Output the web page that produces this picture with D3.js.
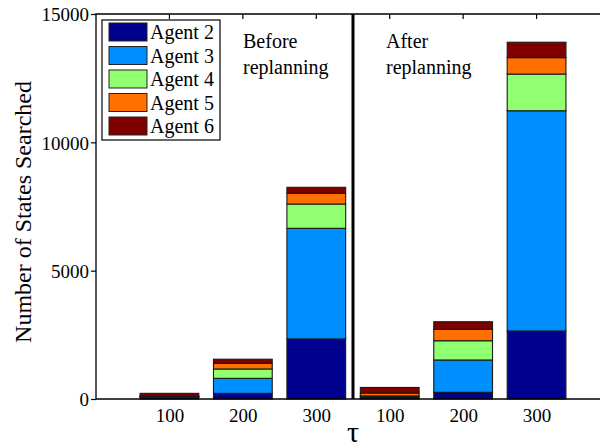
<!DOCTYPE html>
<html>
<head>
<meta charset="utf-8">
<script src="https://cdn.jsdelivr.net/npm/d3@7"></script>
<style>
  body { margin: 0; background: #fff; }
  svg text { font-family: "Liberation Serif", "DejaVu Serif", serif; fill: #000; }
</style>
</head>
<body>
<svg id="chart" width="600" height="448"></svg>
<script>
// data
var agents = ["Agent 2", "Agent 3", "Agent 4", "Agent 5", "Agent 6"];
var colors = ["#00008f", "#008fff", "#90ff70", "#ff7000", "#800000"];
var slots = [1, 2, 3, 4, 5, 6];
var tickLabels = ["100", "200", "300", "100", "200", "300"];
// one array per agent, one value per slot (before 100/200/300, after 100/200/300)
var agent2 = [70, 220, 2340, 40, 260, 2650];
var agent3 = [15, 585, 4310, 40, 1260, 8580];
var agent4 = [10, 365, 946, 40, 750, 1430];
var agent5 = [20, 220, 417, 110, 445, 640];
var agent6 = [105, 160, 234, 220, 295, 600];
var yTicks = [0, 5000, 10000, 15000];

var svg = d3.select("#chart");
var axL = 96, axT = 14, axB = 399, axR = 610;

var x = d3.scaleLinear().domain([0, 7]).range([axL, axR]);
var y = d3.scaleLinear().domain([0, 15000]).range([axB, axT]);
var barW = (x(1) - x(0)) * 0.8;

var series = [agent2, agent3, agent4, agent5, agent6];
var rows = slots.map(function (s, i) {
  var r = { slot: s };
  agents.forEach(function (a, k) { r[a] = series[k][i]; });
  return r;
});
var stacked = d3.stack().keys(agents)(rows);

// bars
svg.append("g").selectAll("g")
  .data(stacked)
  .enter().append("g")
  .attr("fill", function (d, i) { return colors[i]; })
  .selectAll("rect")
  .data(function (d) { return d; })
  .enter().append("rect")
  .attr("x", function (d) { return x(d.data.slot) - barW / 2; })
  .attr("y", function (d) { return y(d[1]); })
  .attr("width", barW)
  .attr("height", function (d) { return y(d[0]) - y(d[1]); })
  .attr("stroke", "#1a1a1a")
  .attr("stroke-width", 1.1);

// frame: left, top, bottom
svg.append("path")
  .attr("d", "M" + axR + "," + axT + "H" + axL + "V" + axB + "H" + axR)
  .attr("fill", "none").attr("stroke", "#000").attr("stroke-width", 1.3);

// y axis
var yAxis = d3.axisLeft(y).tickValues(yTicks).tickSize(5).tickPadding(2).tickFormat(d3.format("d"));
var gy = svg.append("g").attr("transform", "translate(" + axL + ",0)").call(yAxis);
gy.select(".domain").remove();
gy.selectAll("line").attr("stroke", "#000").attr("stroke-width", 1.2);
gy.selectAll("text").style("font-size", "19px").attr("dy", "0.36em");

// x axis
var xAxis = d3.axisBottom(x).tickValues(slots).tickSize(0).tickPadding(10)
  .tickFormat(function (d, i) { return tickLabels[i]; });
var gx = svg.append("g").attr("transform", "translate(0," + axB + ")").call(xAxis);
gx.select(".domain").remove();
gx.selectAll("text").style("font-size", "19px");

// top ticks
svg.append("g").selectAll("line")
  .data(slots)
  .enter().append("line")
  .attr("x1", function (d) { return x(d); }).attr("x2", function (d) { return x(d); })
  .attr("y1", axT).attr("y2", axT + 5)
  .attr("stroke", "#000").attr("stroke-width", 1.2);

// separator
svg.append("line")
  .attr("x1", x(3.5)).attr("x2", x(3.5))
  .attr("y1", axT).attr("y2", axB)
  .attr("stroke", "#000").attr("stroke-width", 3);

// annotations
var notes = [["Before", "replanning", 243], ["After", "replanning", 386]];
notes.forEach(function (n) {
  var t = svg.append("text").attr("x", n[2]).attr("y", 48).style("font-size", "20px");
  t.append("tspan").attr("x", n[2]).text(n[0]);
  t.append("tspan").attr("x", n[2]).attr("dy", 26).text(n[1]);
});

// axis titles
svg.append("text")
  .attr("transform", "translate(31,212) rotate(-90)")
  .attr("text-anchor", "middle")
  .style("font-size", "24px")
  .text("Number of States Searched");
svg.append("text")
  .attr("x", x(3.5)).attr("y", 442)
  .attr("text-anchor", "middle")
  .style("font-size", "30px")
  .text("τ");

// legend
var lg = svg.append("g").attr("transform", "translate(102,20)");
lg.append("rect").attr("width", 118).attr("height", 120)
  .attr("fill", "#fff").attr("stroke", "#000").attr("stroke-width", 1.2);
var item = lg.selectAll("g.item").data(agents).enter().append("g")
  .attr("transform", function (d, i) { return "translate(0," + (3 + i * 23.5) + ")"; });
item.append("rect").attr("x", 7).attr("y", 0).attr("width", 38).attr("height", 18)
  .attr("fill", function (d, i) { return colors[i]; })
  .attr("stroke", "#222").attr("stroke-width", 1);
item.append("text").attr("x", 48).attr("y", 16).style("font-size", "20px")
  .text(function (d) { return d; });
</script>
</body>
</html>
